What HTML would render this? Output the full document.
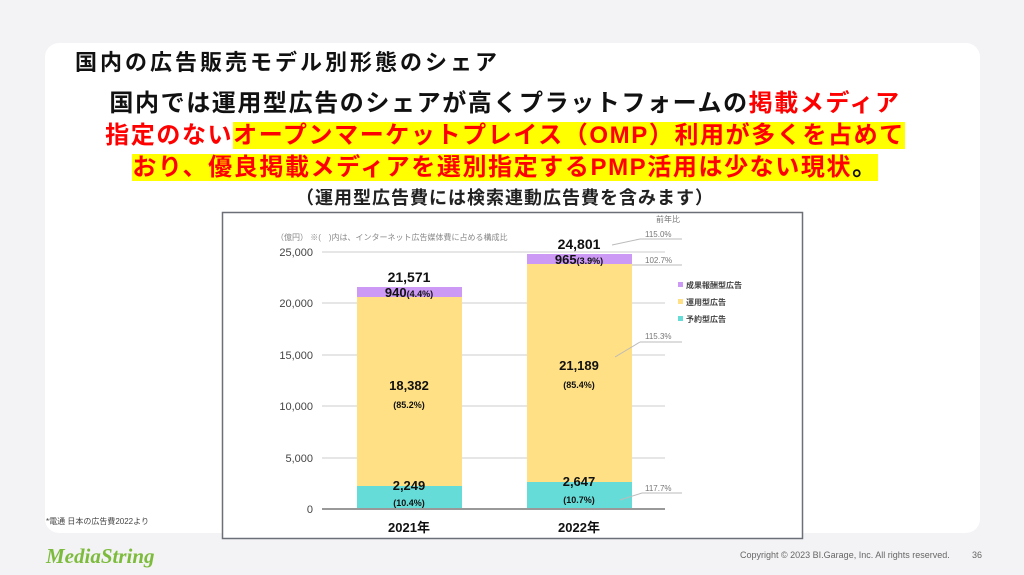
<!DOCTYPE html>
<html><head><meta charset="utf-8"><style>
body{margin:0;width:1024px;height:575px;background:#f3f3f5;position:relative;overflow:hidden;font-family:"Liberation Sans","Noto Sans CJK JP",sans-serif}
.card{position:absolute;left:45px;top:43px;width:935px;height:490px;background:#fff;border-radius:14px}
.t{position:absolute;white-space:nowrap;font-weight:bold}
.h{position:absolute;left:0;width:1010px;text-align:center;font-size:24px;letter-spacing:1.6px;font-weight:bold;white-space:nowrap;line-height:32px}
.y{background:#ffff00;color:#ff0000}
.r{color:#ff0000}
</style></head><body>
<div class="card"></div>
<div class="t" style="left:75px;top:45px;font-size:22px;letter-spacing:3px;color:#111">国内の広告販売モデル別形態のシェア</div>
<div class="h" style="top:88px;color:#111">国内では運用型広告のシェアが高くプラットフォームの<span class="r">掲載メディア</span></div>
<div class="h" style="top:120px;"><span class="r">指定のない</span><span class="y">オープンマーケットプレイス（OMP）利用が多くを占めて</span></div>
<div class="h" style="top:152px;"><span class="y">おり、優良掲載メディアを選別指定するPMP活用は少ない現状</span><span style="color:#111;background:#ff0">。</span></div>
<div class="t" style="left:0;width:1010px;text-align:center;top:184px;font-size:18px;letter-spacing:1px;color:#222">（運用型広告費には検索連動広告費を含みます）</div>
<svg style="position:absolute;left:0;top:0" width="1024" height="575" font-family="Liberation Sans, Noto Sans CJK JP, sans-serif">
<rect x="222.5" y="212.5" width="580" height="326" fill="#fff" stroke="#6a6f78" stroke-width="1.5"/>
<g stroke="#ddd" stroke-width="1.5">
<line x1="322" y1="252" x2="665" y2="252"/><line x1="322" y1="303" x2="665" y2="303"/><line x1="322" y1="355" x2="665" y2="355"/><line x1="322" y1="406" x2="665" y2="406"/><line x1="322" y1="458" x2="665" y2="458"/></g>
<g font-size="11" fill="#444" text-anchor="end"><text x="313" y="256">25,000</text><text x="313" y="307">20,000</text><text x="313" y="359">15,000</text><text x="313" y="410">10,000</text><text x="313" y="462">5,000</text><text x="313" y="513">0</text></g>
<text x="276" y="240" font-size="8" fill="#888">（億円） ※(　)内は、インターネット広告媒体費に占める構成比</text>
<rect x="357" y="486" width="105" height="23" fill="#66dcd9"/><rect x="357" y="297" width="105" height="189" fill="#ffe084"/><rect x="357" y="287" width="105" height="10" fill="#cc99f5"/>
<rect x="527" y="482" width="105" height="27" fill="#66dcd9"/><rect x="527" y="264" width="105" height="218" fill="#ffe084"/><rect x="527" y="254" width="105" height="10" fill="#cc99f5"/>
<line x1="322" y1="509" x2="665" y2="509" stroke="#999" stroke-width="2"/>
<g font-weight="bold" fill="#111" text-anchor="middle">
<text x="409" y="282" font-size="14">21,571</text><text x="409" y="297" font-size="13">940<tspan font-size="9">(4.4%)</tspan></text>
<text x="579" y="249" font-size="14">24,801</text><text x="579" y="264" font-size="13">965<tspan font-size="9">(3.9%)</tspan></text>
<text x="409" y="390" font-size="13">18,382</text><text x="409" y="408" font-size="9">(85.2%)</text>
<text x="579" y="370" font-size="13">21,189</text><text x="579" y="388" font-size="9">(85.4%)</text>
<text x="409" y="490" font-size="13">2,249</text><text x="409" y="506" font-size="9">(10.4%)</text>
<text x="579" y="486" font-size="13">2,647</text><text x="579" y="503" font-size="9">(10.7%)</text>
<text x="409" y="532" font-size="13">2021年</text><text x="579" y="532" font-size="13">2022年</text></g>
<g font-size="8" fill="#777"><text x="656" y="222">前年比</text>
<text x="645" y="237">115.0%</text><text x="645" y="263">102.7%</text><text x="645" y="339">115.3%</text><text x="645" y="491">117.7%</text></g>
<g stroke="#bbb" stroke-width="1"><line x1="612" y1="245" x2="640" y2="239"/><line x1="640" y1="239" x2="682" y2="239"/><line x1="632" y1="265" x2="682" y2="265"/><line x1="615" y1="357" x2="640" y2="342"/><line x1="640" y1="342" x2="682" y2="342"/><line x1="620" y1="500" x2="642" y2="493"/><line x1="642" y1="493" x2="682" y2="493"/></g>
<rect x="678" y="282" width="5" height="5" fill="#cc99f5"/><rect x="678" y="299" width="5" height="5" fill="#ffe084"/><rect x="678" y="316" width="5" height="5" fill="#66dcd9"/>
<g font-size="8" font-weight="bold" fill="#444"><text x="686" y="288">成果報酬型広告</text><text x="686" y="305">運用型広告</text><text x="686" y="322">予約型広告</text></g>
<text x="46" y="524" font-size="8" fill="#444">*電通 日本の広告費2022より</text>
<text x="46" y="563" font-size="21" font-style="italic" font-weight="bold" fill="#7dbb3c" font-family="Liberation Serif, serif">MediaString</text>
<text x="740" y="558" font-size="9" fill="#666">Copyright © 2023 BI.Garage, Inc. All rights reserved.</text>
<text x="972" y="558" font-size="9" fill="#666">36</text>
</svg>
</body></html>
